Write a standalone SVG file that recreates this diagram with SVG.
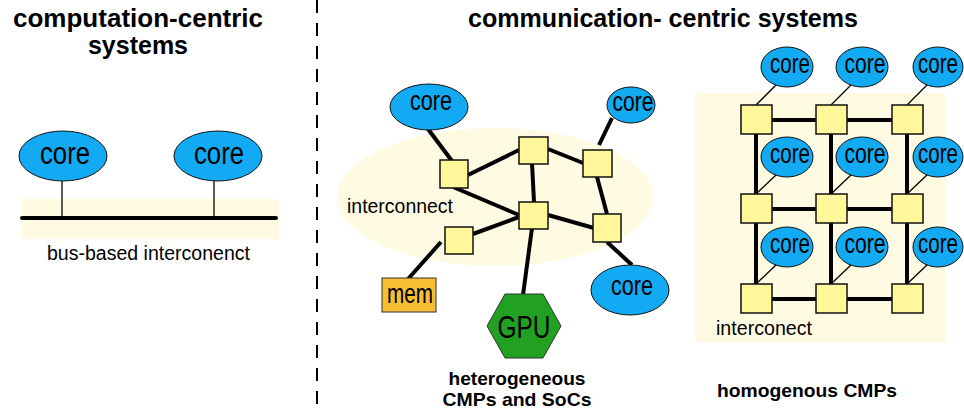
<svg xmlns="http://www.w3.org/2000/svg" width="964" height="414" viewBox="0 0 964 414">
  <style>
    .title { font-family: "Liberation Sans", Arial, sans-serif; font-weight: bold; font-size: 25px; fill: #000; text-anchor: middle; }
    .caption { font-family: "Liberation Sans", Arial, sans-serif; font-weight: bold; font-size: 19px; fill: #000; text-anchor: middle; }
    .label { font-family: "Liberation Sans", Arial, sans-serif; font-size: 20px; fill: #000; }
    .core { fill: #12aaf2; stroke: #111; stroke-width: 1; }
    .core-text { font-family: "Liberation Sans", Arial, sans-serif; font-size: 31px; fill: #000; text-anchor: middle; }
    .core-small { font-family: "Liberation Sans", Arial, sans-serif; font-size: 28px; fill: #000; text-anchor: middle; }
    .router { fill: #fff799; stroke: #111; stroke-width: 1.5; }
    .area { fill: #fffbe2; }
    .thick { stroke: #000; stroke-width: 4; fill: none; }
    .thin { stroke: #000; stroke-width: 1.3; fill: none; }
  </style>

  <!-- section divider -->
  <line x1="317" y1="0" x2="317" y2="414" stroke="#000" stroke-width="2" stroke-dasharray="13,10"/>

  <!-- ===== bus-based system ===== -->
  <text class="title" x="138" y="27" textLength="250" lengthAdjust="spacingAndGlyphs">computation-centric</text>
  <text class="title" x="138" y="54">systems</text>

  <rect class="area" x="22" y="199" width="257" height="40"/>
  <g id="bus-links">
    <line class="thin" x1="62" y1="180" x2="62" y2="218"/>
    <line class="thin" x1="214" y1="180" x2="214" y2="218"/>
    <line x1="22" y1="218" x2="276" y2="218" stroke="#000" stroke-width="4" stroke-linecap="round"/>
  </g>
  <g id="bus-core-1">
    <ellipse class="core" cx="63" cy="156" rx="44" ry="25"/>
    <text class="core-text" x="65" y="164" textLength="50" lengthAdjust="spacingAndGlyphs">core</text>
  </g>
  <g id="bus-core-2">
    <ellipse class="core" cx="218" cy="156" rx="44" ry="25"/>
    <text class="core-text" x="219" y="164" textLength="50" lengthAdjust="spacingAndGlyphs">core</text>
  </g>
  <text class="label" x="47" y="260" textLength="203" lengthAdjust="spacingAndGlyphs">bus-based interconenct</text>

  <!-- ===== communication-centric systems ===== -->
  <text class="title" x="663" y="27" textLength="390" lengthAdjust="spacingAndGlyphs">communication- centric systems</text>

  <!-- heterogeneous SoC -->
  <ellipse class="area" cx="495" cy="197" rx="158" ry="69"/>
  <text class="label" x="347" y="213" textLength="106" lengthAdjust="spacingAndGlyphs">interconnect</text>

  <g id="soc-links">
    <line class="thick" x1="428" y1="129" x2="452" y2="161"/>
    <line class="thick" x1="468" y1="175" x2="519" y2="150"/>
    <line class="thick" x1="548" y1="149" x2="583" y2="163"/>
    <line class="thick" x1="532" y1="163" x2="534" y2="202"/>
    <line class="thick" x1="453" y1="187" x2="519" y2="215"/>
    <line class="thick" x1="599" y1="145" x2="612" y2="118"/>
    <line class="thick" x1="597" y1="177" x2="607" y2="214"/>
    <line class="thick" x1="548" y1="215" x2="594" y2="228"/>
    <line class="thick" x1="519" y1="217" x2="473" y2="234"/>
    <line class="thick" x1="441" y1="242" x2="408" y2="279"/>
    <line class="thick" x1="532" y1="228" x2="523" y2="295"/>
    <line class="thick" x1="607" y1="242" x2="632" y2="265"/>
  </g>

  <g id="soc-router-1"><rect class="router" x="440" y="160" width="28" height="28"/></g>
  <g id="soc-router-2"><rect class="router" x="519" y="137" width="29" height="27"/></g>
  <g id="soc-router-3"><rect class="router" x="583" y="150" width="29" height="27"/></g>
  <g id="soc-router-4"><rect class="router" x="519" y="202" width="29" height="27"/></g>
  <g id="soc-router-5"><rect class="router" x="445" y="227" width="28" height="27"/></g>
  <g id="soc-router-6"><rect class="router" x="593" y="214" width="28" height="28"/></g>

  <g id="soc-core-1">
    <ellipse class="core" cx="429" cy="107" rx="39" ry="23"/>
    <text class="core-small" x="431" y="110" textLength="42" lengthAdjust="spacingAndGlyphs">core</text>
  </g>
  <g id="soc-core-2">
    <ellipse class="core" cx="631" cy="105" rx="24" ry="18"/>
    <text class="core-small" x="633" y="111" textLength="41" lengthAdjust="spacingAndGlyphs">core</text>
  </g>
  <g id="soc-core-3">
    <ellipse class="core" cx="630" cy="290" rx="39" ry="25"/>
    <text class="core-small" x="632" y="295" textLength="42" lengthAdjust="spacingAndGlyphs">core</text>
  </g>
  <g id="soc-mem">
    <rect x="382" y="278" width="54" height="34" fill="#f8be33" stroke="#333" stroke-width="1"/>
    <text class="core-small" x="410" y="303" font-size="26" textLength="46" lengthAdjust="spacingAndGlyphs">mem</text>
  </g>
  <g id="soc-gpu">
    <polygon points="487,326 505,294 543,294 561,326 543,358 505,358" fill="#21a021" stroke="#333" stroke-width="1"/>
    <text class="core-text" x="524" y="338" font-size="30" textLength="53" lengthAdjust="spacingAndGlyphs">GPU</text>
  </g>

  <text class="caption" x="517" y="385" textLength="137" lengthAdjust="spacingAndGlyphs">heterogeneous</text>
  <text class="caption" x="517" y="406" textLength="149" lengthAdjust="spacingAndGlyphs">CMPs and SoCs</text>

  <!-- homogeneous mesh CMP -->
  <rect class="area" x="695" y="93" width="251" height="249"/>
  <text class="label" x="716" y="335" textLength="96" lengthAdjust="spacingAndGlyphs">interconect</text>

  <g id="mesh-links">
    <!-- horizontal links -->
    <line class="thick" x1="756" y1="120" x2="907" y2="120"/>
    <line class="thick" x1="756" y1="209" x2="907" y2="209"/>
    <line class="thick" x1="756" y1="299" x2="907" y2="299"/>
    <!-- vertical links -->
    <line class="thick" x1="756" y1="120" x2="756" y2="299"/>
    <line class="thick" x1="831" y1="120" x2="831" y2="299"/>
    <line class="thick" x1="907" y1="120" x2="907" y2="299"/>
    <!-- core attachments -->
    <line class="thin" x1="777" y1="84" x2="756" y2="105"/>
    <line class="thin" x1="852" y1="84" x2="831" y2="105"/>
    <line class="thin" x1="928" y1="84" x2="907" y2="105"/>
    <line class="thin" x1="777" y1="174" x2="756" y2="194"/>
    <line class="thin" x1="852" y1="174" x2="831" y2="194"/>
    <line class="thin" x1="928" y1="174" x2="907" y2="194"/>
    <line class="thin" x1="777" y1="264" x2="756" y2="284"/>
    <line class="thin" x1="852" y1="264" x2="831" y2="284"/>
    <line class="thin" x1="928" y1="264" x2="907" y2="284"/>
  </g>

  <g id="mesh-r11"><rect class="router" x="741" y="105" width="31" height="29"/></g>
  <g id="mesh-r12"><rect class="router" x="816" y="105" width="31" height="29"/></g>
  <g id="mesh-r13"><rect class="router" x="892" y="105" width="31" height="29"/></g>
  <g id="mesh-r21"><rect class="router" x="741" y="194" width="31" height="29"/></g>
  <g id="mesh-r22"><rect class="router" x="816" y="194" width="31" height="29"/></g>
  <g id="mesh-r23"><rect class="router" x="892" y="194" width="31" height="29"/></g>
  <g id="mesh-r31"><rect class="router" x="741" y="284" width="31" height="29"/></g>
  <g id="mesh-r32"><rect class="router" x="816" y="284" width="31" height="29"/></g>
  <g id="mesh-r33"><rect class="router" x="892" y="284" width="31" height="29"/></g>

  <g id="mesh-core-11"><ellipse class="core" cx="787" cy="67" rx="26" ry="20"/><text class="core-small" x="790" y="73" textLength="40" lengthAdjust="spacingAndGlyphs">core</text></g>
  <g id="mesh-core-12"><ellipse class="core" cx="862" cy="67" rx="26" ry="20"/><text class="core-small" x="865" y="73" textLength="41" lengthAdjust="spacingAndGlyphs">core</text></g>
  <g id="mesh-core-13"><ellipse class="core" cx="938" cy="67" rx="25" ry="20"/><text class="core-small" x="938" y="73" textLength="40" lengthAdjust="spacingAndGlyphs">core</text></g>
  <g id="mesh-core-21"><ellipse class="core" cx="787" cy="157" rx="26" ry="20"/><text class="core-small" x="790" y="163" textLength="40" lengthAdjust="spacingAndGlyphs">core</text></g>
  <g id="mesh-core-22"><ellipse class="core" cx="862" cy="157" rx="26" ry="20"/><text class="core-small" x="865" y="163" textLength="41" lengthAdjust="spacingAndGlyphs">core</text></g>
  <g id="mesh-core-23"><ellipse class="core" cx="938" cy="157" rx="25" ry="20"/><text class="core-small" x="938" y="163" textLength="40" lengthAdjust="spacingAndGlyphs">core</text></g>
  <g id="mesh-core-31"><ellipse class="core" cx="787" cy="247" rx="26" ry="20"/><text class="core-small" x="790" y="253" textLength="40" lengthAdjust="spacingAndGlyphs">core</text></g>
  <g id="mesh-core-32"><ellipse class="core" cx="862" cy="247" rx="26" ry="20"/><text class="core-small" x="865" y="253" textLength="41" lengthAdjust="spacingAndGlyphs">core</text></g>
  <g id="mesh-core-33"><ellipse class="core" cx="938" cy="247" rx="25" ry="20"/><text class="core-small" x="938" y="253" textLength="40" lengthAdjust="spacingAndGlyphs">core</text></g>

  <text class="caption" x="807" y="397" textLength="180" lengthAdjust="spacingAndGlyphs">homogenous CMPs</text>
</svg>
